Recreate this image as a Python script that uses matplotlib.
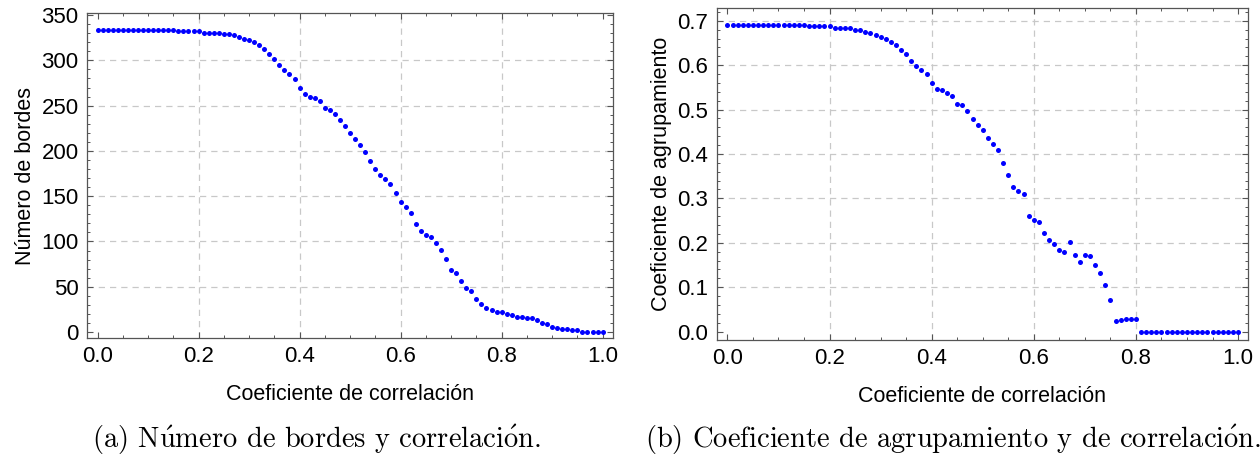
import matplotlib
matplotlib.use("Agg")
import matplotlib.pyplot as plt
from matplotlib.ticker import MultipleLocator
import numpy as np

# correlation threshold 0.00 .. 1.00
corr = np.round(np.arange(0, 101) * 0.01, 2)

# (a) number of edges
edges = [334, 334, 334, 334, 334, 334, 334, 334, 334, 334,
	334, 334, 334, 334, 333, 333, 332, 332, 332, 332,
	332, 330, 330, 330, 330, 329, 329, 328, 326, 324,
	322, 320, 317, 313, 307, 301, 295, 289, 285, 279,
	269, 263, 260, 258, 255, 247, 245, 241, 234, 228,
	220, 213, 206, 199, 189, 180, 173, 169, 163, 153,
	144, 138, 131, 119, 112, 107, 105, 98, 91, 81,
	69, 65, 56, 49, 45, 37, 31, 27, 24, 22,
	22, 20, 19, 17, 17, 16, 15, 13, 10, 9,
	6, 4, 3, 3, 2, 2, 0, 0, 0, 0, 0]

# (b) clustering coefficient
clustering = [0.691, 0.691, 0.691, 0.691, 0.691, 0.691, 0.691, 0.691, 0.691, 0.691,
	0.691, 0.691, 0.691, 0.691, 0.691, 0.691, 0.689, 0.688, 0.688, 0.688,
	0.688, 0.683, 0.683, 0.683, 0.683, 0.680, 0.680, 0.674, 0.673, 0.668,
	0.663, 0.658, 0.652, 0.646, 0.634, 0.626, 0.609, 0.599, 0.589, 0.579,
	0.560, 0.547, 0.544, 0.538, 0.530, 0.512, 0.510, 0.497, 0.479, 0.466,
	0.453, 0.437, 0.422, 0.409, 0.380, 0.352, 0.326, 0.317, 0.309, 0.260,
	0.251, 0.247, 0.221, 0.206, 0.197, 0.184, 0.179, 0.201, 0.173, 0.156,
	0.173, 0.170, 0.149, 0.132, 0.104, 0.072, 0.024, 0.026, 0.028, 0.029,
	0.029, 0.0, 0.0, 0.0, 0.0, 0.0, 0.0, 0.0, 0.0, 0.0,
	0.0, 0.0, 0.0, 0.0, 0.0, 0.0, 0.0, 0.0, 0.0, 0.0, 0.0]

xlabel = "Coeficiente de correlación"
ylabels = ["Número de bordes", "Coeficiente de agrupamiento"]
# cmr10 has no precomposed accents, so the accented letters go through mathtext
captions = [r"(a) N$\mathrm{\acute{u}}$mero de bordes y correlaci$\mathrm{\acute{o}}$n.",
	r"(b) Coeficiente de agrupamiento y de correlaci$\mathrm{\acute{o}}$n."]

plt.rcParams["font.family"] = ["Liberation Sans", "DejaVu Sans"]
plt.rcParams["mathtext.fontset"] = "cm"
FRAME = "#555555"
FS = 15.5

fig = plt.figure(figsize=(12.6, 4.58), dpi=100)
axA = fig.add_axes([0.069, 0.262, 0.4173, 0.709])
axB = fig.add_axes([0.5688, 0.2576, 0.4219, 0.7242])

def style(ax, xgrid, ygrid, ymajor, yminor):
	ax.xaxis.set_major_locator(MultipleLocator(0.2))
	ax.xaxis.set_minor_locator(MultipleLocator(0.05))
	ax.yaxis.set_major_locator(MultipleLocator(ymajor))
	ax.yaxis.set_minor_locator(MultipleLocator(yminor))
	ax.tick_params(which="both", direction="in", top=True, right=True,
		labeltop=False, labelright=False, color=FRAME, labelsize=16, pad=6)
	ax.tick_params(which="major", length=4.5, width=0.8)
	ax.tick_params(which="minor", length=2.5, width=0.7)
	for s in ax.spines.values():
		s.set_color(FRAME)
		s.set_linewidth(0.9)
	# grid only at interior major ticks
	for gx in xgrid:
		ax.axvline(gx, color="#c8c8c8", lw=0.9, ls=(0, (5, 4)), zorder=0)
	for gy in ygrid:
		ax.axhline(gy, color="#c8c8c8", lw=0.9, ls=(0, (5, 4)), zorder=0)
	ax.set_xlabel(xlabel, fontsize=FS, labelpad=12)

axA.plot(corr, edges, "o", color="#0000ff", ms=3.6, mec="none")
axA.set_xlim(-0.021, 1.02)
axA.set_ylim(-6.6, 352)
style(axA, [0.2, 0.4, 0.6, 0.8], [50, 100, 150, 200, 250, 300], 50, 10)
axA.set_ylabel(ylabels[0], fontsize=FS, labelpad=4)

axB.plot(corr, clustering, "o", color="#0000ff", ms=3.6, mec="none")
axB.set_xlim(-0.021, 1.02)
axB.set_ylim(-0.019, 0.728)
style(axB, [0.2, 0.4, 0.6, 0.8], [0.1, 0.2, 0.3, 0.4, 0.5, 0.6, 0.7], 0.1, 0.02)
axB.yaxis.set_major_formatter(plt.FuncFormatter(lambda v, p: "%.1f" % v))
axB.set_ylabel(ylabels[1], fontsize=FS, labelpad=4)

capfont = ["cmr10", "DejaVu Serif"]
fig.text(0.251, 0.022, captions[0], ha="center", va="baseline",
	fontsize=20.5, family=capfont)
fig.text(0.756, 0.022, captions[1], ha="center", va="baseline",
	fontsize=20.5, family=capfont)

fig.savefig("out.png", dpi=100)
